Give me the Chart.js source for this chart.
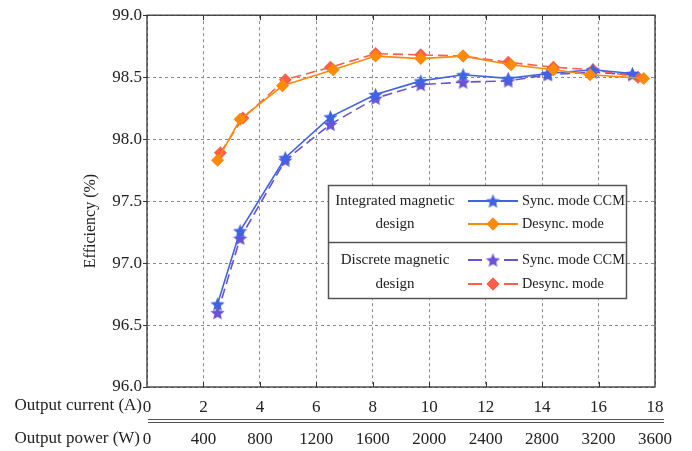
<!DOCTYPE html>
<html>
<head>
<meta charset="utf-8">
<title>Efficiency vs output current</title>
<script src="https://cdn.jsdelivr.net/npm/chart.js@4.4.0/dist/chart.umd.min.js"></script>
<style>
  html, body { margin: 0; padding: 0; background: #fff; }
  #wrap { width: 692px; height: 451px; }
</style>
</head>
<body>
<div id="wrap"><canvas id="effChart"></canvas></div>
<script>
// axis ticks
const effTicks = [96.0, 96.5, 97.0, 97.5, 98.0, 98.5, 99.0];
const currentTicks = [0, 2, 4, 6, 8, 10, 12, 14, 16, 18];
const powerTicks = [0, 400, 800, 1200, 1600, 2000, 2400, 2800, 3200, 3600];

// integrated magnetic design
const intSyncCurrent = [2.5, 3.3, 4.9, 6.5, 8.1, 9.7, 11.2, 12.8, 14.2, 15.8, 17.2];
const intSyncEff = [96.67, 97.26, 97.85, 98.18, 98.36, 98.47, 98.52, 98.49, 98.53, 98.56, 98.53];
const intDesyncCurrent = [2.5, 3.3, 4.8, 6.6, 8.1, 9.7, 11.2, 12.9, 14.4, 15.7, 17.6];
const intDesyncEff = [97.83, 98.16, 98.43, 98.56, 98.67, 98.65, 98.67, 98.60, 98.56, 98.52, 98.49];

// discrete magnetic design
const disSyncCurrent = [2.5, 3.3, 4.9, 6.5, 8.1, 9.7, 11.2, 12.8, 14.2, 15.8, 17.2];
const disSyncEff = [96.60, 97.20, 97.83, 98.12, 98.33, 98.44, 98.46, 98.47, 98.52, 98.54, 98.52];
const disDesyncCurrent = [2.6, 3.4, 4.9, 6.5, 8.1, 9.7, 11.2, 12.8, 14.4, 15.8, 17.4];
const disDesyncEff = [97.89, 98.17, 98.48, 98.58, 98.69, 98.68, 98.67, 98.62, 98.58, 98.56, 98.50];

const FONT = "'Liberation Serif', 'Times New Roman', serif";
const TEXT = "#222";

const BLUE = "#3f63e2";
const ORANGE = "#ff8a0a";
const PURPLE = "#6b52d4";
const RED = "#ff5f4a";

// filled five-point star used as point marker
function makeStar(color, r) {
  const c = document.createElement("canvas");
  const s = Math.ceil(r * 2 + 2);
  c.width = s;
  c.height = s;
  const g = c.getContext("2d");
  g.translate(s / 2, s / 2 + r * 0.1);
  g.beginPath();
  for (let i = 0; i < 10; i++) {
    const rad = i % 2 ? r * 0.45 : r;
    const a = -Math.PI / 2 + i * Math.PI / 5;
    g.lineTo(rad * Math.cos(a), rad * Math.sin(a));
  }
  g.closePath();
  g.fillStyle = color;
  g.fill();
  return c;
}

function toPoints(xs, ys) {
  return xs.map((x, i) => ({ x: x, y: ys[i] }));
}

const datasets = [
  {
    label: "Desync. mode",
    data: toPoints(intDesyncCurrent, intDesyncEff),
    borderColor: ORANGE, backgroundColor: ORANGE,
    pointStyle: "rectRot", pointRadius: 6.5, borderWidth: 1.6
  },
  {
    label: "Sync. mode CCM",
    data: toPoints(intSyncCurrent, intSyncEff),
    borderColor: BLUE, backgroundColor: BLUE,
    pointStyle: makeStar(BLUE, 7.5), borderWidth: 1.6
  },
  {
    label: "Desync. mode",
    data: toPoints(disDesyncCurrent, disDesyncEff),
    borderColor: RED, backgroundColor: RED, borderDash: [10, 5],
    pointStyle: "rectRot", pointRadius: 6.5, borderWidth: 1.6
  },
  {
    label: "Sync. mode CCM",
    data: toPoints(disSyncCurrent, disSyncEff),
    borderColor: PURPLE, backgroundColor: PURPLE, borderDash: [10, 5],
    pointStyle: makeStar(PURPLE, 7.5), borderWidth: 1.6
  }
];
datasets.forEach(d => {
  d.showLine = true;
  d.pointBorderWidth = 0;
  d.pointHoverRadius = d.pointRadius;
});

// box, tick marks, axis row titles, y title
const framePlugin = {
  id: "frame",
  afterDraw(chart) {
    const { ctx, chartArea: a } = chart;
    const xs = chart.scales.x, ys = chart.scales.y;
    ctx.save();
    ctx.strokeStyle = "#333";
    ctx.lineWidth = 1.3;
    ctx.strokeRect(a.left, a.top, a.right - a.left, a.bottom - a.top);

    ctx.lineWidth = 1;
    ctx.beginPath();
    effTicks.forEach(v => {
      const y = Math.round(ys.getPixelForValue(v)) + 0.5;
      ctx.moveTo(a.left - 4, y);
      ctx.lineTo(a.left, y);
    });
    currentTicks.slice(1, -1).forEach(v => {
      const x = Math.round(xs.getPixelForValue(v)) + 0.5;
      ctx.moveTo(x, a.bottom);
      ctx.lineTo(x, a.bottom - 5);
      ctx.moveTo(x, a.top);
      ctx.lineTo(x, a.top + 5);
    });
    ctx.stroke();

    // double rule between the two x rows
    ctx.strokeStyle = "#555";
    ctx.lineWidth = 1;
    ctx.beginPath();
    ctx.moveTo(a.left + 1, 419.5);
    ctx.lineTo(a.right + 9, 419.5);
    ctx.moveTo(a.left + 1, 422.5);
    ctx.lineTo(a.right + 9, 422.5);
    ctx.stroke();

    ctx.fillStyle = TEXT;
    ctx.font = "17px " + FONT;
    ctx.textAlign = "right";
    ctx.textBaseline = "middle";
    ctx.fillText("Output current (A)", 142, 406);
    ctx.fillText("Output power (W)", 140, 439);

    ctx.translate(91, 221);
    ctx.rotate(-Math.PI / 2);
    ctx.textAlign = "center";
    ctx.font = "16px " + FONT;
    ctx.fillText("Efficiency (%)", 0, 0);
    ctx.restore();
  }
};

// grouped legend box
const groupLegend = {
  id: "groupLegend",
  afterDraw(chart) {
    const ctx = chart.ctx;
    const bx = 328.5, by = 185.5, bw = 298, bh = 113, mid = 242.5;
    const groups = [
      { title: ["Integrated magnetic", "design"], rows: [1, 0], ys: [201, 224] },
      { title: ["Discrete magnetic", "design"], rows: [3, 2], ys: [260, 284] }
    ];
    ctx.save();
    ctx.fillStyle = "#fff";
    ctx.fillRect(bx, by, bw, bh);
    ctx.strokeStyle = "#555";
    ctx.lineWidth = 1.5;
    ctx.strokeRect(bx, by, bw, bh);
    ctx.beginPath();
    ctx.moveTo(bx, mid);
    ctx.lineTo(bx + bw, mid);
    ctx.stroke();

    ctx.textBaseline = "middle";
    groups.forEach(g => {
      ctx.fillStyle = TEXT;
      ctx.textAlign = "center";
      ctx.font = "15px " + FONT;
      ctx.fillText(g.title[0], 395, g.ys[0]);
      ctx.fillText(g.title[1], 395, g.ys[1]);
      ctx.font = "14.3px " + FONT;
      g.rows.forEach((idx, k) => {
        const ds = chart.data.datasets[idx];
        const y = g.ys[k];
        ctx.strokeStyle = ds.borderColor;
        ctx.lineWidth = 2;
        ctx.beginPath();
        if (ds.borderDash) {
          ctx.moveTo(468, y); ctx.lineTo(482, y);
          ctx.moveTo(504, y); ctx.lineTo(518, y);
        } else {
          ctx.moveTo(468, y); ctx.lineTo(518, y);
        }
        ctx.stroke();
        if (typeof ds.pointStyle === "string") {
          ctx.fillStyle = ds.backgroundColor;
          Chart.helpers.drawPoint(ctx, { pointStyle: ds.pointStyle, radius: ds.pointRadius, borderWidth: 0 }, 493, y);
          ctx.fill();
        } else {
          const img = ds.pointStyle;
          ctx.drawImage(img, 493 - img.width / 2, y - img.height / 2);
        }
        ctx.fillStyle = TEXT;
        ctx.textAlign = "left";
        ctx.fillText(ds.label, 522, y);
      });
    });
    ctx.restore();
  }
};

function setTicks(list) {
  return scale => { scale.ticks = list.map(v => ({ value: v })); };
}

const gridDash = {
  color: "#8a8a8a",
  lineWidth: 1,
  drawTicks: false
};

new Chart(document.getElementById("effChart"), {
  type: "scatter",
  data: { datasets: datasets },
  options: {
    responsive: true,
    maintainAspectRatio: false,
    animation: false,
    layout: { padding: { top: 13, right: 37, left: 0, bottom: 0 } },
    plugins: {
      legend: { display: false },
      tooltip: { enabled: false }
    },
    scales: {
      x: {
        type: "linear", position: "bottom", weight: 0,
        min: 0, max: 18,
        afterBuildTicks: setTicks(currentTicks),
        afterFit: s => { s.height = 32; },
        grid: gridDash,
        border: { display: false, dash: [3, 3] },
        ticks: {
          padding: 10, color: TEXT, font: { family: FONT, size: 17 }, maxRotation: 0,
          callback: v => String(v)
        }
      },
      x2: {
        type: "linear", position: "bottom", weight: 1,
        min: 0, max: 3600,
        afterBuildTicks: setTicks(powerTicks),
        afterFit: s => { s.height = 32; },
        grid: { display: false, drawTicks: false },
        border: { display: false },
        ticks: {
          padding: 10, color: TEXT, font: { family: FONT, size: 17 }, maxRotation: 0,
          callback: v => String(v)
        }
      },
      y: {
        type: "linear", position: "left",
        min: 96, max: 99,
        afterBuildTicks: setTicks(effTicks),
        afterFit: s => { s.width = 147; },
        grid: gridDash,
        border: { display: false, dash: [3, 3] },
        ticks: {
          padding: 5, color: TEXT, font: { family: FONT, size: 17 },
          callback: v => v.toFixed(1)
        }
      }
    }
  },
  plugins: [framePlugin, groupLegend]
});
</script>
</body>
</html>
